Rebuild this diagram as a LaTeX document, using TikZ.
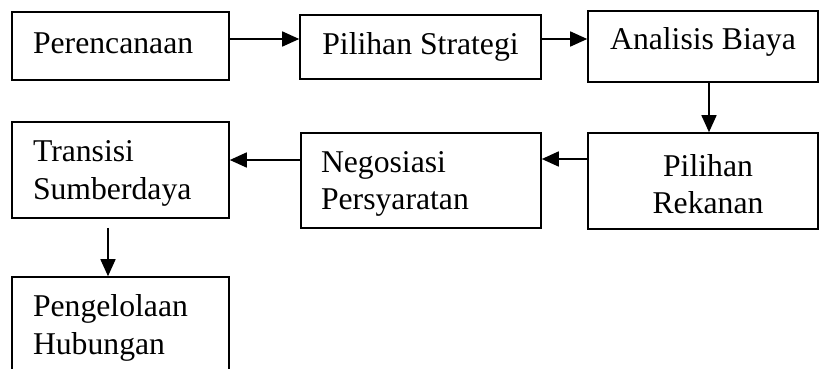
\documentclass[tikz,border=0pt]{standalone}
\usepackage{fontspec}
\setmainfont{Liberation Serif}
\usetikzlibrary{arrows.meta}
\begin{document}
\begin{tikzpicture}[x=1pt,y=-1pt,
  box/.style={draw=black,line width=1.6pt,rectangle,inner sep=0pt,
    font=\fontsize{31.7}{37.5}\selectfont},
  lbox/.style={box,align=left},
  cbox/.style={box,align=center},
  two/.style={text height=28.3pt},
  arr/.style={line width=1.6pt,-{Triangle[length=17pt,width=15pt]}}]
\clip (0,0) rectangle (819,369);
\fill[white] (0,0) rectangle (819,369);
\node[lbox,minimum width=217pt,minimum height=68pt,text width=175pt,text height=21pt,text depth=7pt] (n1) at (120.5,46) {Perencanaan};
\node[cbox,minimum width=241pt,minimum height=64pt,text height=21.65pt,text depth=5.65pt] (n2) at (420.5,47) {Pilihan Strategi};
\node[cbox,minimum width=230pt,minimum height=71pt,text height=21.65pt,text depth=14.65pt] (n3) at (703,46.5) {Analisis Biaya};
\node[cbox,two,minimum width=230pt,minimum height=96pt,text width=200pt] (n4) at (703,181) {\hspace*{10pt}Pilihan\\\hspace*{10pt}Rekanan};
\node[lbox,two,minimum width=240pt,minimum height=95pt,text width=200pt] (n5) at (421,180.5) {Negosiasi\\Persyaratan};
\node[lbox,two,minimum width=217pt,minimum height=96pt,text width=175pt] (n6) at (120.5,170) {Transisi\\Sumberdaya};
\node[lbox,two,minimum width=217pt,minimum height=96pt,text width=175pt] (n7) at (120.5,325) {Pengelolaan\\Hubungan};
\draw[arr] ([yshift=7pt]n1.east) -- ([yshift=7pt]n1.east -| n2.west);
\draw[arr] ([yshift=8pt]n2.east) -- ([yshift=8pt]n2.east -| n3.west);
\draw[arr] ([xshift=6pt]n3.south) -- ([xshift=6pt]n3.south |- n4.north);
\draw[arr] ([yshift=22pt]n4.west) -- ([yshift=22pt]n4.west -| n5.east);
\draw[arr] ([yshift=20.5pt]n5.west) -- ([yshift=20.5pt]n5.west -| n6.east);
\draw[arr,shorten <=9pt] ([xshift=-12.5pt]n6.south) -- ([xshift=-12.5pt]n6.south |- n7.north);
\end{tikzpicture}
\end{document}
